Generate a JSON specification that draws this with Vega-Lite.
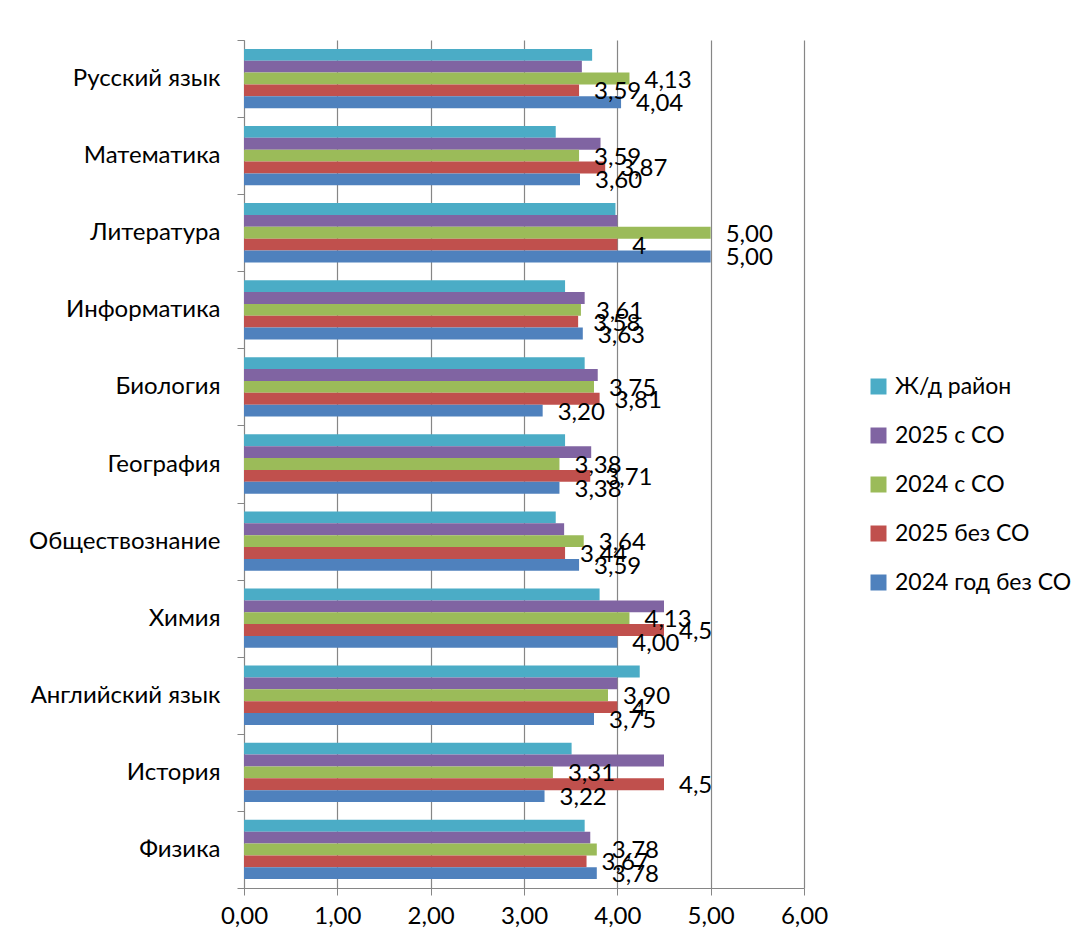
{
  "$schema": "https://vega.github.io/schema/vega-lite/v6.json",
  "width": 560,
  "height": 848,
  "autosize": {"type": "none"},
  "padding": {"left": 244, "top": 40, "right": 284, "bottom": 60},
  "background": "white",
  "config": {"font": "Lato", "view": {"stroke": null}},
  "data": {"values": [
    {"subject": "Русский язык", "series": "Ж/д район", "value": 3.73, "label": null},
    {"subject": "Русский язык", "series": "2025 с СО", "value": 3.62, "label": null},
    {"subject": "Русский язык", "series": "2024 с СО", "value": 4.13, "label": "4,13"},
    {"subject": "Русский язык", "series": "2025 без СО", "value": 3.59, "label": "3,59"},
    {"subject": "Русский язык", "series": "2024 год без СО", "value": 4.04, "label": "4,04"},
    {"subject": "Математика", "series": "Ж/д район", "value": 3.34, "label": null},
    {"subject": "Математика", "series": "2025 с СО", "value": 3.82, "label": null},
    {"subject": "Математика", "series": "2024 с СО", "value": 3.59, "label": "3,59"},
    {"subject": "Математика", "series": "2025 без СО", "value": 3.87, "label": "3,87"},
    {"subject": "Математика", "series": "2024 год без СО", "value": 3.60, "label": "3,60"},
    {"subject": "Литература", "series": "Ж/д район", "value": 3.98, "label": null},
    {"subject": "Литература", "series": "2025 с СО", "value": 4.0, "label": null},
    {"subject": "Литература", "series": "2024 с СО", "value": 5.0, "label": "5,00"},
    {"subject": "Литература", "series": "2025 без СО", "value": 4.0, "label": "4"},
    {"subject": "Литература", "series": "2024 год без СО", "value": 5.0, "label": "5,00"},
    {"subject": "Информатика", "series": "Ж/д район", "value": 3.44, "label": null},
    {"subject": "Информатика", "series": "2025 с СО", "value": 3.65, "label": null},
    {"subject": "Информатика", "series": "2024 с СО", "value": 3.61, "label": "3,61"},
    {"subject": "Информатика", "series": "2025 без СО", "value": 3.58, "label": "3,58"},
    {"subject": "Информатика", "series": "2024 год без СО", "value": 3.63, "label": "3,63"},
    {"subject": "Биология", "series": "Ж/д район", "value": 3.65, "label": null},
    {"subject": "Биология", "series": "2025 с СО", "value": 3.79, "label": null},
    {"subject": "Биология", "series": "2024 с СО", "value": 3.75, "label": "3,75"},
    {"subject": "Биология", "series": "2025 без СО", "value": 3.81, "label": "3,81"},
    {"subject": "Биология", "series": "2024 год без СО", "value": 3.20, "label": "3,20"},
    {"subject": "География", "series": "Ж/д район", "value": 3.44, "label": null},
    {"subject": "География", "series": "2025 с СО", "value": 3.72, "label": null},
    {"subject": "География", "series": "2024 с СО", "value": 3.38, "label": "3,38"},
    {"subject": "География", "series": "2025 без СО", "value": 3.71, "label": "3,71"},
    {"subject": "География", "series": "2024 год без СО", "value": 3.38, "label": "3,38"},
    {"subject": "Обществознание", "series": "Ж/д район", "value": 3.34, "label": null},
    {"subject": "Обществознание", "series": "2025 с СО", "value": 3.43, "label": null},
    {"subject": "Обществознание", "series": "2024 с СО", "value": 3.64, "label": "3,64"},
    {"subject": "Обществознание", "series": "2025 без СО", "value": 3.44, "label": "3,44"},
    {"subject": "Обществознание", "series": "2024 год без СО", "value": 3.59, "label": "3,59"},
    {"subject": "Химия", "series": "Ж/д район", "value": 3.81, "label": null},
    {"subject": "Химия", "series": "2025 с СО", "value": 4.5, "label": null},
    {"subject": "Химия", "series": "2024 с СО", "value": 4.13, "label": "4,13"},
    {"subject": "Химия", "series": "2025 без СО", "value": 4.5, "label": "4,5"},
    {"subject": "Химия", "series": "2024 год без СО", "value": 4.0, "label": "4,00"},
    {"subject": "Английский язык", "series": "Ж/д район", "value": 4.24, "label": null},
    {"subject": "Английский язык", "series": "2025 с СО", "value": 4.0, "label": null},
    {"subject": "Английский язык", "series": "2024 с СО", "value": 3.90, "label": "3,90"},
    {"subject": "Английский язык", "series": "2025 без СО", "value": 4.0, "label": "4"},
    {"subject": "Английский язык", "series": "2024 год без СО", "value": 3.75, "label": "3,75"},
    {"subject": "История", "series": "Ж/д район", "value": 3.51, "label": null},
    {"subject": "История", "series": "2025 с СО", "value": 4.5, "label": null},
    {"subject": "История", "series": "2024 с СО", "value": 3.31, "label": "3,31"},
    {"subject": "История", "series": "2025 без СО", "value": 4.5, "label": "4,5"},
    {"subject": "История", "series": "2024 год без СО", "value": 3.22, "label": "3,22"},
    {"subject": "Физика", "series": "Ж/д район", "value": 3.65, "label": null},
    {"subject": "Физика", "series": "2025 с СО", "value": 3.71, "label": null},
    {"subject": "Физика", "series": "2024 с СО", "value": 3.78, "label": "3,78"},
    {"subject": "Физика", "series": "2025 без СО", "value": 3.67, "label": "3,67"},
    {"subject": "Физика", "series": "2024 год без СО", "value": 3.78, "label": "3,78"}
  ]},
  "encoding": {
    "y": {
      "field": "subject", "type": "nominal",
      "sort": ["Русский язык", "Математика", "Литература", "Информатика", "Биология", "География", "Обществознание", "Химия", "Английский язык", "История", "Физика"],
      "scale": {"paddingInner": 0, "paddingOuter": 0},
      "axis": {
        "title": null, "tickBand": "extent", "tickSize": 7, "tickColor": "#868686",
        "domainColor": "#868686", "labelFontSize": 24, "labelColor": "#000000",
        "labelPadding": 17, "labelFont": "Lato", "grid": false, "labelLimit": 300
      }
    },
    "x": {
      "field": "value", "type": "quantitative",
      "scale": {"domain": [0, 6], "nice": false, "zero": true},
      "axis": {
        "title": null, "values": [0, 1, 2, 3, 4, 5, 6], "tickSize": 7,
        "tickColor": "#868686", "domainColor": "#868686", "gridColor": "#868686",
        "gridWidth": 1.2, "grid": true, "labelFontSize": 24, "labelColor": "#000000",
        "labelPadding": 9, "labelExpr": "replace(format(datum.value, '.2f'), '.', ',')",
        "labelFlush": false
      }
    },
    "yOffset": {
      "field": "series", "type": "nominal",
      "sort": ["Ж/д район", "2025 с СО", "2024 с СО", "2025 без СО", "2024 год без СО"],
      "scale": {"paddingInner": 0, "paddingOuter": 0.75}
    }
  },
  "layer": [
    {
      "mark": {"type": "bar"},
      "encoding": {
        "color": {
          "field": "series", "type": "nominal",
          "scale": {
            "domain": ["Ж/д район", "2025 с СО", "2024 с СО", "2025 без СО", "2024 год без СО"],
            "range": ["#4BACC6", "#8064A2", "#9BBB59", "#C0504D", "#4F81BD"]
          },
          "legend": {
            "title": null, "orient": "none", "legendX": 623, "legendY": 335,
            "symbolType": "square", "symbolSize": 256, "symbolStrokeWidth": 0,
            "labelFontSize": 23, "labelColor": "#000000", "labelOffset": 5,
            "rowPadding": 25, "labelLimit": 300
          }
        }
      }
    },
    {
      "transform": [{"filter": "datum.label != null"}],
      "mark": {"type": "text", "align": "left", "baseline": "middle", "dx": 15, "dy": 2, "fontSize": 24, "color": "#000000"},
      "encoding": {"text": {"field": "label", "type": "nominal"}}
    }
  ]
}
